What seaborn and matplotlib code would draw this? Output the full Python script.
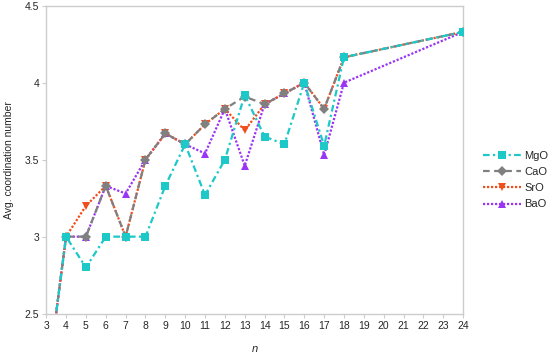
import matplotlib
import numpy as np
import pandas as pd

matplotlib.use("Agg")

import matplotlib.pyplot as plt
import seaborn as sns

# cluster size n and average coordination numbers
n_values = [3, 4, 5, 6, 7, 8, 9, 10, 11, 12, 13, 14, 15, 16, 17, 18, 24]
mgo = [2.0, 3.0, 2.80, 3.0, 3.0, 3.0, 3.33, 3.60, 3.27, 3.50, 3.92, 3.65, 3.60, 4.0, 3.59, 4.165, 4.33]
cao = [2.0, 3.0, 3.0, 3.33, 3.0, 3.50, 3.67, 3.60, 3.73, 3.83, 3.91, 3.86, 3.93, 4.0, 3.83, 4.165, 4.33]
sro = [2.0, 3.0, 3.20, 3.33, 3.0, 3.50, 3.67, 3.60, 3.73, 3.83, 3.69, 3.86, 3.93, 4.0, 3.83, 4.165, 4.33]
bao = [2.0, 3.0, 3.0, 3.33, 3.28, 3.50, 3.67, 3.60, 3.54, 3.83, 3.46, 3.86, 3.93, 4.0, 3.53, 4.0, 4.33]

x_ticks = list(range(3, 25))
y_ticks = [2.5, 3, 3.5, 4, 4.5]
y_tick_labels = ["2.5", "3", "3.5", "4", "4.5"]

SERIES = [
    # label, values, colour, linestyle, marker, zorder
    ("MgO", mgo, "#1CC8C8", (0, (3, 1.5, 1, 1.5)), "s", 5),
    ("CaO", cao, "#808080", (0, (3, 2)), "D", 4),
    ("SrO", sro, "#F04E1C", (0, (1, 0.8)), "v", 3),
    ("BaO", bao, "#9B35F5", (0, (1, 0.8)), "^", 2),
]


def main() -> None:
    sns.set_theme(style="white")
    plt.rcParams["font.family"] = ["Liberation Sans", "DejaVu Sans"]

    fig = plt.figure(figsize=(5.5, 3.56), dpi=100)
    ax = fig.add_axes([0.084, 0.119, 0.758, 0.865])

    for label, vals, color, ls, marker, z in SERIES:
        df = pd.DataFrame({"n": n_values, "val": vals})
        ms = 5 if marker == "D" else 6
        sns.lineplot(
            data=df, x="n", y="val", ax=ax, color=color, label=label,
            linestyle=ls, linewidth=1.6, marker=marker, markersize=ms,
            markeredgewidth=0, zorder=z, clip_on=True,
        )

    ax.set_xlim(3, 24)
    ax.set_ylim(2.5, 4.5)
    ax.set_xticks(x_ticks)
    ax.set_yticks(y_ticks)
    ax.set_yticklabels(y_tick_labels)
    ax.tick_params(axis="both", labelsize=7.5, length=3, width=0.8,
                   color="#CCCCCC", pad=2, direction="out",
                   bottom=True, left=True)
    for spine in ax.spines.values():
        spine.set_color("#CCCCCC")
        spine.set_linewidth(1.0)

    ax.set_xlabel("n", fontsize=8, style="italic", labelpad=10)
    ax.set_ylabel("Avg. coordination number", fontsize=7.5, labelpad=8)

    # legend order as in the reference, no frame, to the right of the axes
    handles, labels = ax.get_legend_handles_labels()
    ax.legend(handles, labels, loc="center left", bbox_to_anchor=(1.037, 0.433),
              frameon=False, fontsize=8, handlelength=3.4, handletextpad=0.3,
              labelspacing=0.55, borderaxespad=0)

    fig.savefig("out.png", dpi=100)
    plt.close(fig)


if __name__ == "__main__":
    main()
